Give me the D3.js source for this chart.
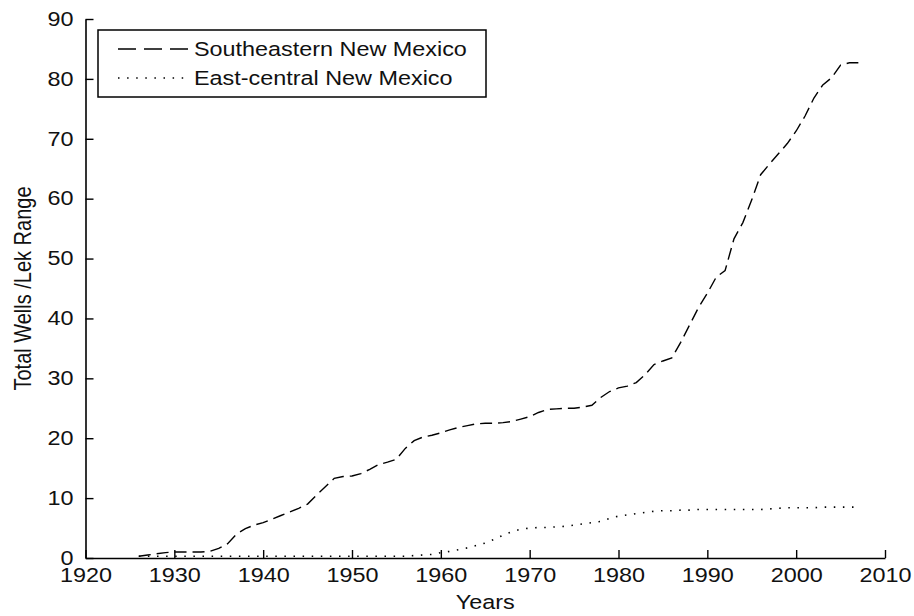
<!DOCTYPE html>
<html>
<head>
<meta charset="utf-8">
<script src="https://cdn.jsdelivr.net/npm/d3@7"></script>
<style>
  html, body { margin: 0; padding: 0; background: #fff; }
  svg { display: block; font-family: "Liberation Sans", Arial, sans-serif; }
</style>
</head>
<body>
<svg id="chart" width="914" height="616"></svg>
<script>
// years and well counts
const years = [1926, 1927, 1928, 1929, 1930, 1931, 1932, 1933, 1934, 1935, 1936, 1937, 1938, 1939,
  1940, 1941, 1942, 1943, 1944, 1945, 1946, 1947, 1948, 1949, 1950, 1951, 1952, 1953, 1954, 1955,
  1956, 1957, 1958, 1959, 1960, 1961, 1962, 1963, 1964, 1965, 1966, 1967, 1968, 1969, 1970, 1971,
  1972, 1973, 1974, 1975, 1976, 1977, 1978, 1979, 1980, 1981, 1982, 1983, 1984, 1985, 1986, 1987,
  1988, 1989, 1990, 1991, 1992, 1993, 1994, 1995, 1996, 1997, 1998, 1999, 2000, 2001, 2002, 2003,
  2004, 2005, 2006, 2007];
const southeastern = [0.3, 0.5, 0.7, 0.9, 1.0, 1.0, 1.0, 1.0, 1.1, 1.6, 2.4, 4.0, 4.9, 5.5,
  5.9, 6.5, 7.1, 7.7, 8.3, 9.0, 10.5, 11.9, 13.3, 13.6, 13.7, 14.1, 14.8, 15.6, 16.0, 16.5,
  18.3, 19.6, 20.2, 20.5, 20.9, 21.4, 21.8, 22.1, 22.4, 22.5, 22.5, 22.6, 22.8, 23.2, 23.6, 24.3,
  24.8, 24.9, 25.0, 25.0, 25.2, 25.5, 26.8, 27.8, 28.4, 28.7, 29.3, 30.6, 32.3, 32.9, 33.4, 36.0,
  38.9, 41.8, 44.2, 46.9, 48.0, 53.3, 56.0, 59.8, 64.0, 65.8, 67.5, 69.2, 71.3, 73.8, 76.8, 79.0,
  80.2, 82.3, 82.7, 82.7];
const eastCentral = [0.3, 0.3, 0.3, 0.3, 0.3, 0.3, 0.3, 0.3, 0.3, 0.3, 0.3, 0.3, 0.3, 0.3,
  0.3, 0.3, 0.3, 0.3, 0.3, 0.3, 0.3, 0.3, 0.3, 0.3, 0.3, 0.3, 0.3, 0.3, 0.3, 0.3,
  0.3, 0.4, 0.5, 0.6, 0.9, 1.1, 1.4, 1.7, 2.1, 2.5, 3.1, 3.8, 4.4, 4.8, 5.0, 5.1,
  5.1, 5.2, 5.3, 5.5, 5.7, 5.9, 6.1, 6.6, 7.0, 7.2, 7.4, 7.6, 7.8, 7.9, 7.9, 8.0,
  8.0, 8.1, 8.1, 8.1, 8.1, 8.1, 8.1, 8.1, 8.1, 8.2, 8.3, 8.4, 8.4, 8.4, 8.4, 8.5,
  8.5, 8.5, 8.5, 8.5];
const seriesNames = ['Southeastern New Mexico', 'East-central New Mexico'];
const xTicks = [1920, 1930, 1940, 1950, 1960, 1970, 1980, 1990, 2000, 2010];
const yTicks = [0, 10, 20, 30, 40, 50, 60, 70, 80, 90];

const svg = d3.select('#chart');
const plotLeft = 85.5, plotRight = 885, plotTop = 19, plotBottom = 558;
const fontSize = 19.5;
const stretch = 1.2; // text in the figure is drawn wide

const x = d3.scaleLinear().domain([1920, 2010]).range([plotLeft, plotRight]);
const y = d3.scaleLinear().domain([0, 90]).range([plotBottom, plotTop]);

const xAxis = svg.append('g')
  .attr('transform', `translate(0,${plotBottom})`)
  .call(d3.axisBottom(x).tickValues(xTicks).tickFormat(d3.format('d'))
    .tickSizeInner(-8).tickSizeOuter(0).tickPadding(10));
const yAxis = svg.append('g')
  .attr('transform', `translate(${plotLeft},0)`)
  .call(d3.axisLeft(y).tickValues(yTicks)
    .tickSizeInner(-8).tickSizeOuter(0).tickPadding(10));

[xAxis, yAxis].forEach(ax => {
  ax.attr('font-family', null).attr('font-size', null);
  ax.select('.domain').attr('stroke', '#000').attr('stroke-width', 1.6);
  ax.selectAll('.tick line').attr('stroke', '#000').attr('stroke-width', 1.4);
  ax.selectAll('.tick text')
    .attr('fill', '#111')
    .style('font-size', fontSize + 'px')
    .attr('transform', `scale(${stretch},1)`);
});
yAxis.selectAll('.tick text').attr('x', -10);

const line = d3.line()
  .x((d, i) => x(years[i]))
  .y(d => y(d));

svg.append('path')
  .datum(southeastern)
  .attr('d', line)
  .attr('fill', 'none')
  .attr('stroke', '#000')
  .attr('stroke-width', 1.4)
  .attr('stroke-dasharray', '12,6');

svg.append('path')
  .datum(eastCentral)
  .attr('d', line)
  .attr('fill', 'none')
  .attr('stroke', '#000')
  .attr('stroke-width', 1.6)
  .attr('stroke-dasharray', '1.5,7.6');

// axis titles
svg.append('text')
  .attr('transform', `translate(${(plotLeft + plotRight) / 2},609) scale(${stretch},1)`)
  .attr('text-anchor', 'middle')
  .style('font-size', fontSize + 'px')
  .attr('fill', '#111')
  .text('Years');

svg.append('text')
  .attr('transform', `translate(31,${(plotTop + plotBottom) / 2}) scale(${stretch},1) rotate(-90)`)
  .attr('text-anchor', 'middle')
  .style('font-size', '20px')
  .attr('fill', '#111')
  .text('Total Wells /Lek Range');

// legend
const legend = svg.append('g');
legend.append('rect')
  .attr('x', 98).attr('y', 30)
  .attr('width', 388).attr('height', 67)
  .attr('fill', '#fff')
  .attr('stroke', '#000')
  .attr('stroke-width', 1.5);

const legendRows = [
  { name: seriesNames[0], dash: '18,8', width: 1.4, y: 49 },
  { name: seriesNames[1], dash: '1.5,7.6', width: 1.6, y: 78 }
];
legendRows.forEach(r => {
  legend.append('line')
    .attr('x1', 118).attr('x2', 188)
    .attr('y1', r.y).attr('y2', r.y)
    .attr('stroke', '#000')
    .attr('stroke-width', r.width)
    .attr('stroke-dasharray', r.dash);
  legend.append('text')
    .attr('transform', `translate(194,${r.y}) scale(${stretch},1)`)
    .attr('dy', '0.35em')
    .style('font-size', fontSize + 'px')
    .attr('fill', '#111')
    .text(r.name);
});
</script>
</body>
</html>
